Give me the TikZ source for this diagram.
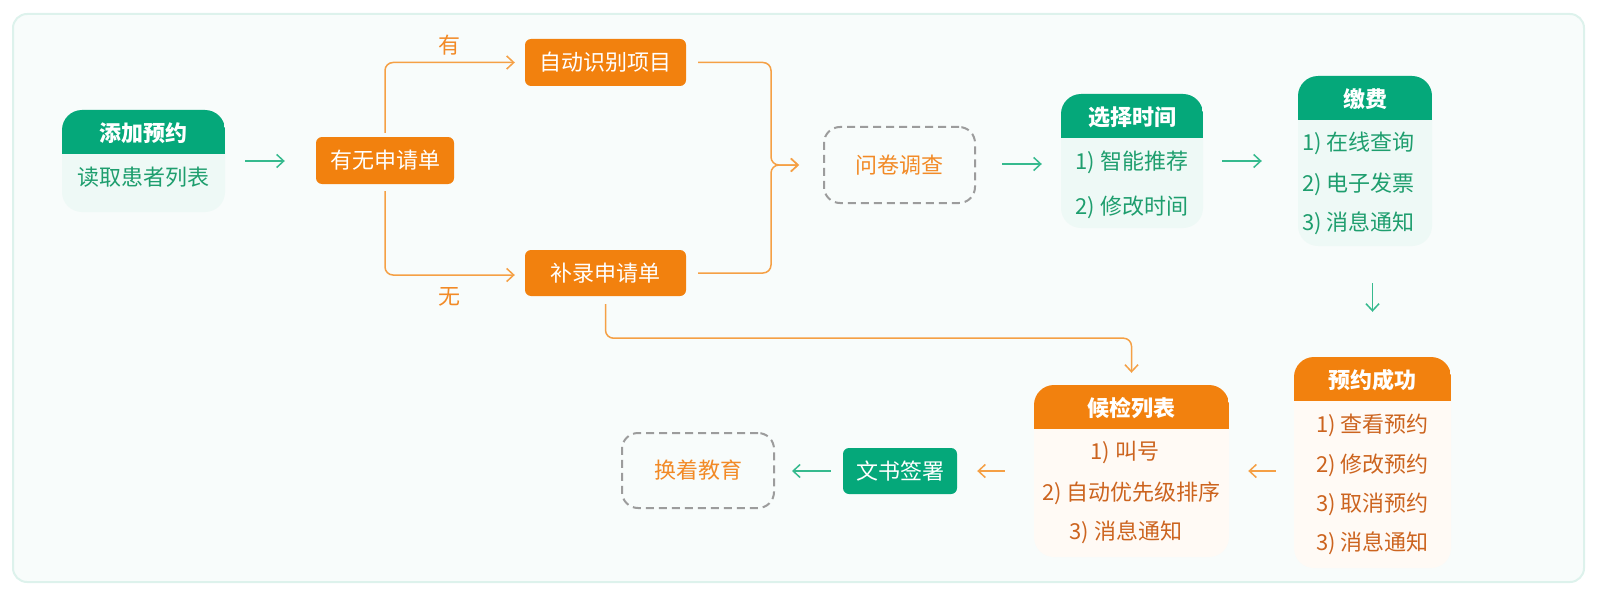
\documentclass[tikz,border=0pt]{standalone}
\usepackage{fontspec}
\setmainfont{Noto Sans CJK SC}
\usetikzlibrary{arrows.meta,positioning}
\definecolor{gG}{HTML}{05A87A}
\definecolor{gbody}{HTML}{EEF9F6}
\definecolor{gtext}{HTML}{1E9E6E}
\definecolor{oO}{HTML}{F2810E}
\definecolor{obody}{HTML}{FFFAF5}
\definecolor{otext}{HTML}{CC641F}
\definecolor{oline}{HTML}{F5A045}
\definecolor{gline}{HTML}{36BA8E}
\definecolor{qtext}{HTML}{F28A26}
\definecolor{dashc}{HTML}{9C9C9C}
\definecolor{framec}{HTML}{DDF2EC}
\definecolor{framefill}{HTML}{F8FCFB}
\tikzset{
  txt/.style={font=\fontsize{22}{26}\selectfont, inner sep=0pt},
  htext/.style={txt, text=white, font=\fontsize{22}{26}\selectfont\bfseries},
  gtxt/.style={txt, text=gtext},
  otxt/.style={txt, text=otext},
  cardg/.style={fill=gbody, rounded corners=20pt, inner sep=0pt,
    path picture={\fill[gG, sharp corners] ([yshift=2pt]path picture bounding box.north west) rectangle ([yshift=-44pt]path picture bounding box.north east);}},
  cardo/.style={fill=obody, rounded corners=20pt, inner sep=0pt,
    path picture={\fill[oO, sharp corners] ([yshift=2pt]path picture bounding box.north west) rectangle ([yshift=-44pt]path picture bounding box.north east);}},
  obox/.style={fill=oO, rounded corners=6pt, inner sep=0pt, text=white, font=\fontsize{22}{26}\selectfont},
  gbox/.style={fill=gG, rounded corners=6pt, inner sep=0pt, text=white, font=\fontsize{22}{26}\selectfont},
  dbox/.style={draw=dashc, line width=2pt, dash pattern=on 8pt off 5pt, rounded corners=16pt, inner sep=0pt, text=qtext, font=\fontsize{22}{26}\selectfont},
  garr/.style={draw=gline, line width=1.5pt, -{Straight Barb[length=7pt,width=13pt]}},
  oarr/.style={draw=oline, line width=1.5pt, -{Straight Barb[length=7pt,width=13pt]}},
  olab/.style={txt, text=qtext},
}
\begin{document}
\begin{tikzpicture}[x=1pt,y=-1pt]
\useasboundingbox (0,0) rectangle (1597,607);
\draw[framec, fill=framefill, line width=2pt, rounded corners=14pt] (13,14) rectangle (1584,582);

% cards
\node[cardg, minimum width=163pt, minimum height=102pt] (add) at (143.5,161) {};
\node[htext] (addh) at (143.5,133) {添加预约};
\node[gtxt] (addb) at (143.5,177) {读取患者列表};

\node[cardg, minimum width=142pt, minimum height=134pt] (xzsj) at (1132,161) {};
\node[htext] (xzsjh) at (1132,117) {选择时间};
\node[gtxt] (xzsj1) at (1132,162) {1) 智能推荐};
\node[gtxt] (xzsj2) at (1132,207) {2) 修改时间};

\node[cardg, minimum width=134pt, minimum height=170pt] (jf) at (1365,161) {};
\node[htext] (jfh) at (1365,99) {缴费};
\node[gtxt, anchor=west] (jf1) at (1302,143) {1) 在线查询};
\node[gtxt, anchor=west] (jf2) at (1302,184) {2) 电子发票};
\node[gtxt, anchor=west] (jf3) at (1302,223) {3) 消息通知};

\node[cardo, minimum width=157pt, minimum height=211pt] (yycg) at (1372.5,462.5) {};
\node[htext] (yycgh) at (1372.5,380) {预约成功};
\node[otxt] (yycg1) at (1372.5,425) {1) 查看预约};
\node[otxt] (yycg2) at (1372.5,465) {2) 修改预约};
\node[otxt] (yycg3) at (1372.5,504) {3) 取消预约};
\node[otxt] (yycg4) at (1372.5,543) {3) 消息通知};

\node[cardo, minimum width=195pt, minimum height=172pt] (hjlb) at (1131.5,471) {};
\node[htext] (hjlbh) at (1131.5,408) {候检列表};
\node[otxt] (hjlb1) at (1125,453) {1) 叫号};
\node[otxt] (hjlb2) at (1131.5,493) {2) 自动优先级排序};
\node[otxt] (hjlb3) at (1126,532) {3) 消息通知};

% simple boxes
\node[obox, minimum width=138pt, minimum height=47pt] (ywsqd) at (385,160.5) {有无申请单};
\node[obox, minimum width=161pt, minimum height=47pt] (zdsb) at (605.5,62.5) {自动识别项目};
\node[obox, minimum width=161pt, minimum height=46pt] (blsqd) at (605.5,273) {补录申请单};
\node[gbox, minimum width=114pt, minimum height=46pt] (wssq) at (900,471) {文书签署};
\node[dbox, minimum width=151pt, minimum height=76pt] (wjdc) at (899.5,165) {问卷调查};
\node[dbox, minimum width=152pt, minimum height=75pt] (hzjy) at (698,470.5) {换着教育};

% connectors
\draw[garr] ([xshift=20pt]add.east) -- ([xshift=-31pt]ywsqd.west |- add.east);
\draw[oarr, rounded corners=8pt] ([yshift=4pt]ywsqd.north) |- ([xshift=-10pt]zdsb.west)
  node[olab, pos=0.75, yshift=17pt] (you) {有};
\draw[oarr, rounded corners=8pt] ([yshift=-7pt]ywsqd.south) |- ([xshift=-10pt,yshift=-2pt]blsqd.west)
  node[olab, pos=0.75, yshift=-22pt] (wu) {无};
\draw[oarr, rounded corners=8pt] ([xshift=12pt]zdsb.east) -| ([xshift=-52pt]wjdc.west) -- ([xshift=-24pt]wjdc.west);
\draw[oarr, rounded corners=8pt] ([xshift=12pt]blsqd.east) -| ([xshift=-52pt]wjdc.west) -- ([xshift=-24pt]wjdc.west);
\draw[garr] ([xshift=26pt,yshift=1pt]wjdc.east) -- ([xshift=-19pt,yshift=1pt]xzsj.west |- wjdc.east);
\draw[garr] ([xshift=19pt]xzsj.east) -- ([xshift=-36pt]jf.west |- xzsj.east);
\draw[garr] ([yshift=-37pt]jf.south -| yycg.north) -- ([yshift=45pt]yycg.north);
\draw[oarr] ([xshift=-18pt]yycg.west |- hjlb.east) -- ([xshift=19pt]hjlb.east);
\draw[oarr] ([xshift=-29pt]hjlb.west) -- ([xshift=20pt]wssq.east |- hjlb.west);
\draw[garr] ([xshift=-12pt]wssq.west) -- ([xshift=17pt]hzjy.east |- wssq.west);
\draw[oarr, rounded corners=8pt] ([yshift=-8pt]blsqd.south) -- ++(0,34) -| ([yshift=12pt]hjlb.north);
\end{tikzpicture}
\end{document}
